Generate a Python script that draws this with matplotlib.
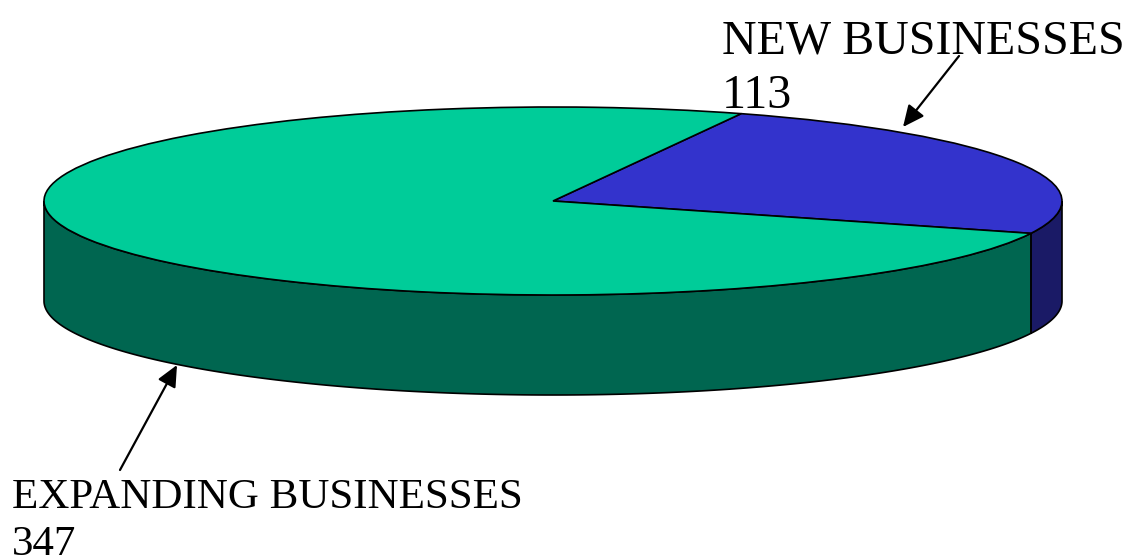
import numpy as np
import matplotlib
matplotlib.use("Agg")
import matplotlib.pyplot as plt

labels = ["NEW BUSINESSES", "EXPANDING BUSINESSES"]
values = [113, 347]
top_colors = ["#3333CC", "#00CC99"]
side_colors = ["#1A1A66", "#006650"]

W, H = 1129, 557
cx, cy = 553, 201   # pie centre, pixels
rx, ry = 509, 94    # ellipse radii, pixels
depth = 100 / ry    # height of the disc in pie units
start = 68.3

plt.rcParams["font.family"] = ["Liberation Serif", "DejaVu Serif"]

fig = plt.figure(figsize=(W / 100, H / 100), dpi=100)
ax = fig.add_axes([0, 0, 1, 1])

# angles of each slice, going clockwise from start
fracs = np.array(values) / sum(values)
edges = start - 360 * np.concatenate([[0], np.cumsum(fracs)])

# side wall: only the front half of the disc shows
for i in range(len(values)):
    hi, lo = edges[i], edges[i + 1]
    for shift in (0, 360, -360):
        a = max(lo + shift, -180)
        b = min(hi + shift, 0)
        if a >= b:
            continue
        t = np.radians(np.linspace(a, b, 200))
        x = np.cos(t)
        y = np.sin(t)
        ax.fill(np.r_[x, x[::-1]], np.r_[y, y[::-1] - depth],
                facecolor=side_colors[i], edgecolor="black", linewidth=1.2, zorder=1)

ax.pie(values, colors=top_colors, startangle=start, counterclock=False, radius=1,
       center=(0, 0), wedgeprops={"edgecolor": "black", "linewidth": 1.2, "zorder": 2})

ax.set_aspect("auto")
ax.set_xlim(-cx / rx, (W - cx) / rx)
ax.set_ylim(-(H - cy) / ry, cy / ry)
ax.set_axis_off()

# labels and arrows, in figure fractions
def fpos(px, py):
    return (px / W, 1 - py / H)

fig.text(*fpos(722, 53), labels[0], fontsize=34.5, ha="left", va="baseline")
fig.text(*fpos(722, 108), str(values[0]), fontsize=34.5, ha="left", va="baseline")
fig.text(*fpos(12, 508), labels[1], fontsize=31, ha="left", va="baseline")
fig.text(*fpos(12, 555), str(values[1]), fontsize=31, ha="left", va="baseline")

arrow = dict(arrowstyle="-|>,head_length=1.3,head_width=0.6", color="black", lw=1.6,
             shrinkA=0, shrinkB=0)
ax.annotate("", xy=fpos(903, 127), xytext=fpos(959, 56), xycoords="figure fraction",
            textcoords="figure fraction", arrowprops=arrow, zorder=5)
ax.annotate("", xy=fpos(177, 365), xytext=fpos(120, 470), xycoords="figure fraction",
            textcoords="figure fraction", arrowprops=arrow, zorder=5)

fig.savefig("out.png", dpi=100)
